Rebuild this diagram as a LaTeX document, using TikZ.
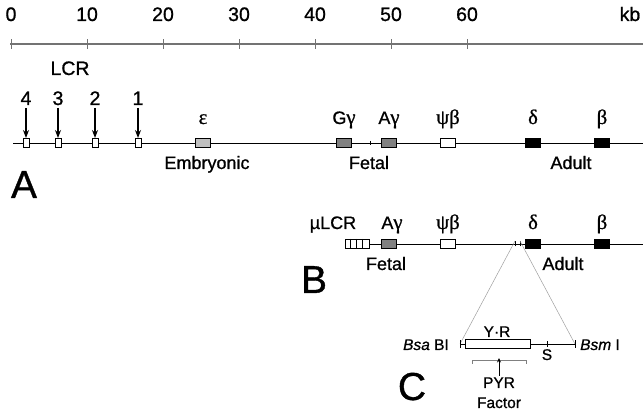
\documentclass[tikz,border=0pt]{standalone}
\usepackage{fontspec}
\setmainfont[FakeBold=0.9]{Liberation Sans}
\newfontfamily\grk[FakeBold=0.9,Scale=1.15]{Liberation Serif}
\usetikzlibrary{arrows.meta}
\definecolor{lightgene}{gray}{0.75}
\definecolor{midgene}{gray}{0.5}
\definecolor{axisgray}{gray}{0.45}
\begin{document}
\begin{tikzpicture}[x=1pt,y=-1pt,
  font=\fontsize{18}{20}\selectfont,
  every node/.append style={inner sep=0pt},
  axisline/.style={draw=axisgray, line width=1.6pt},
  axtick/.style={draw=axisgray, line width=1pt},
  chrom/.style={draw=black, line width=0.9pt},
  hsbox/.style={draw, line width=1pt, fill=white, minimum width=6pt, minimum height=9pt},
  genebox/.style={draw, line width=1pt, minimum width=15pt, minimum height=9pt},
  lbl/.style={anchor=base, font=\fontsize{18}{20}\selectfont},
  numlbl/.style={anchor=base, font=\fontsize{19.5}{22}\selectfont},
  panel/.style={anchor=base, font=\fontsize{39}{42}\selectfont},
  hsarrow/.style={-{Stealth[length=8pt,width=6pt]}, line width=1.3pt},
  zoomline/.style={draw=gray!75, line width=0.5pt},
  small/.style={anchor=base, font=\fontsize{15.5}{18}\selectfont}
]
\useasboundingbox (0,0) rectangle (643,411);

% --- kb scale ---
\coordinate (ax0) at (10,44);
\coordinate (axE) at (643,44);
\draw[axisline] (ax0) -- (axE);
\foreach \v [count=\i from 0] in {0,10,20,30,40,50,60} {
  \coordinate (t\i) at ({11+76*\i},44);
  \draw[axtick] ([yshift=-5pt]t\i) -- ([yshift=5pt]t\i);
  \node[numlbl] (tl\i) at ({11+76*\i},21) {\v};
}
\node[numlbl] (kb) at (630,21) {kb};

% --- A: native locus ---
\coordinate (aL) at (13,143);
\coordinate (aR) at (643,143);
\draw[chrom] (aL) -- (aR);
\node[numlbl] (lcr) at (70,75) {LCR};
\foreach \x/\n in {26/4,58/3,95/2,138/1} {
  \node[hsbox] (hs\n) at (\x,143) {};
  \node[numlbl] (hsn\n) at (\x,105) {\n};
  \coordinate (hst\n) at (\x,108);
  \draw[hsarrow] (hst\n) -- (hs\n.north);
}
\node[genebox, fill=lightgene] (eps) at (203,143) {};
\node[lbl] (epsl) at (203,124) {\grk ε};
\node[genebox, fill=midgene] (Gg) at (344,143) {};
\node[lbl] (Ggl) at (344,124) {G\grk γ};
\draw[chrom] (370,141) -- (370,145);
\node[genebox, fill=midgene] (Ag) at (389,143) {};
\node[lbl] (Agl) at (389,124) {A\grk γ};
\node[genebox, fill=white] (psi) at (448,143) {};
\node[lbl] (psil) at (448,124) {\grk ψβ};
\node[genebox, fill=black] (del) at (533,143) {};
\node[lbl] (dell) at (533,124) {\grk δ};
\node[genebox, fill=black] (bet) at (602,143) {};
\node[lbl] (betl) at (602,124) {\grk β};
\node[lbl] (emb) at (207,169) {Embryonic};
\node[lbl] (fet) at (369,169) {Fetal};
\node[lbl] (adu) at (571,169) {Adult};
\node[panel] (pA) at (24,198) {A};

% --- B: micro-LCR construct ---
\node[genebox, minimum width=24pt, fill=white] (mlcr) at (357,244) {};
\foreach \k in {1,2,3} \draw[line width=0.8pt] ([xshift={6pt*\k}]mlcr.north west) -- ([xshift={6pt*\k}]mlcr.south west);
\coordinate (bR) at (643,244);
\draw[chrom] (mlcr.east) -- (bR);
\node[genebox, fill=midgene] (Ag2) at (389,244) {};
\node[genebox, fill=white] (psi2) at (448,244) {};
\node[genebox, fill=black] (del2) at (533,244) {};
\node[genebox, fill=black] (bet2) at (602,244) {};
\node[lbl] (mlcrl) at (333,229) {µLCR};
\node[lbl] (Ag2l) at (392,229) {A\grk γ};
\node[lbl] (psi2l) at (448,229) {\grk ψβ};
\node[lbl] (del2l) at (533,229) {\grk δ};
\node[lbl] (bet2l) at (602,229) {\grk β};
\coordinate (sBa) at (515,244);
\coordinate (sBb) at (520,244);
\draw[chrom] ([yshift=-2.5pt]sBa) -- ([yshift=2.5pt]sBa);
\draw[chrom] ([yshift=-2.5pt]sBb) -- ([yshift=2.5pt]sBb);
\node[lbl] (fet2) at (386,270) {Fetal};
\node[lbl] (adu2) at (563,270) {Adult};
\node[panel] (pB) at (314,293) {B};

% --- C: enlarged fragment ---
\coordinate (cL) at (460,344);
\coordinate (cR) at (575,344);
\draw[zoomline] ([yshift=3pt]sBa) -- (cL);
\draw[zoomline] ([yshift=3pt]sBb) -- (cR);
\draw[chrom] (cL) -- (cR);
\draw[chrom] ([yshift=-4pt]cL) -- ([yshift=4pt]cL);
\draw[chrom] ([yshift=-4pt]cR) -- ([yshift=4pt]cR);
\node[draw, line width=1pt, fill=white, minimum width=65pt, minimum height=9pt] (yr) at (498,344) {};
\node[small] (yrl) at (497,337) {Y·R};
\coordinate (sC) at (547,344);
\draw[chrom] ([yshift=-3pt]sC) -- ([yshift=3pt]sC);
\node[small] (sl) at (547,360) {S};
\node[small, anchor=base east] (bsa) at (449,350) {\textit{Bsa} BI};
\node[small, anchor=base west] (bsm) at (580,350) {\textit{Bsm} I};
\coordinate (brL) at (472,360);
\coordinate (brR) at (526,360);
\draw[draw=gray, line width=0.7pt] ([yshift=-4pt]brL) -- (brL) -- (brR) -- ([yshift=-4pt]brR);
\node[small] (pyr) at (499,388) {PYR};
\node[small] (fac) at (499,408) {Factor};
\coordinate (pyrtop) at (499,376);
\draw[-{Stealth[length=4.5pt,width=4pt]}, line width=0.9pt] (pyrtop) -- ([yshift=2pt]brL -| pyrtop);
\node[panel] (pC) at (412,400) {C};
\end{tikzpicture}
\end{document}
